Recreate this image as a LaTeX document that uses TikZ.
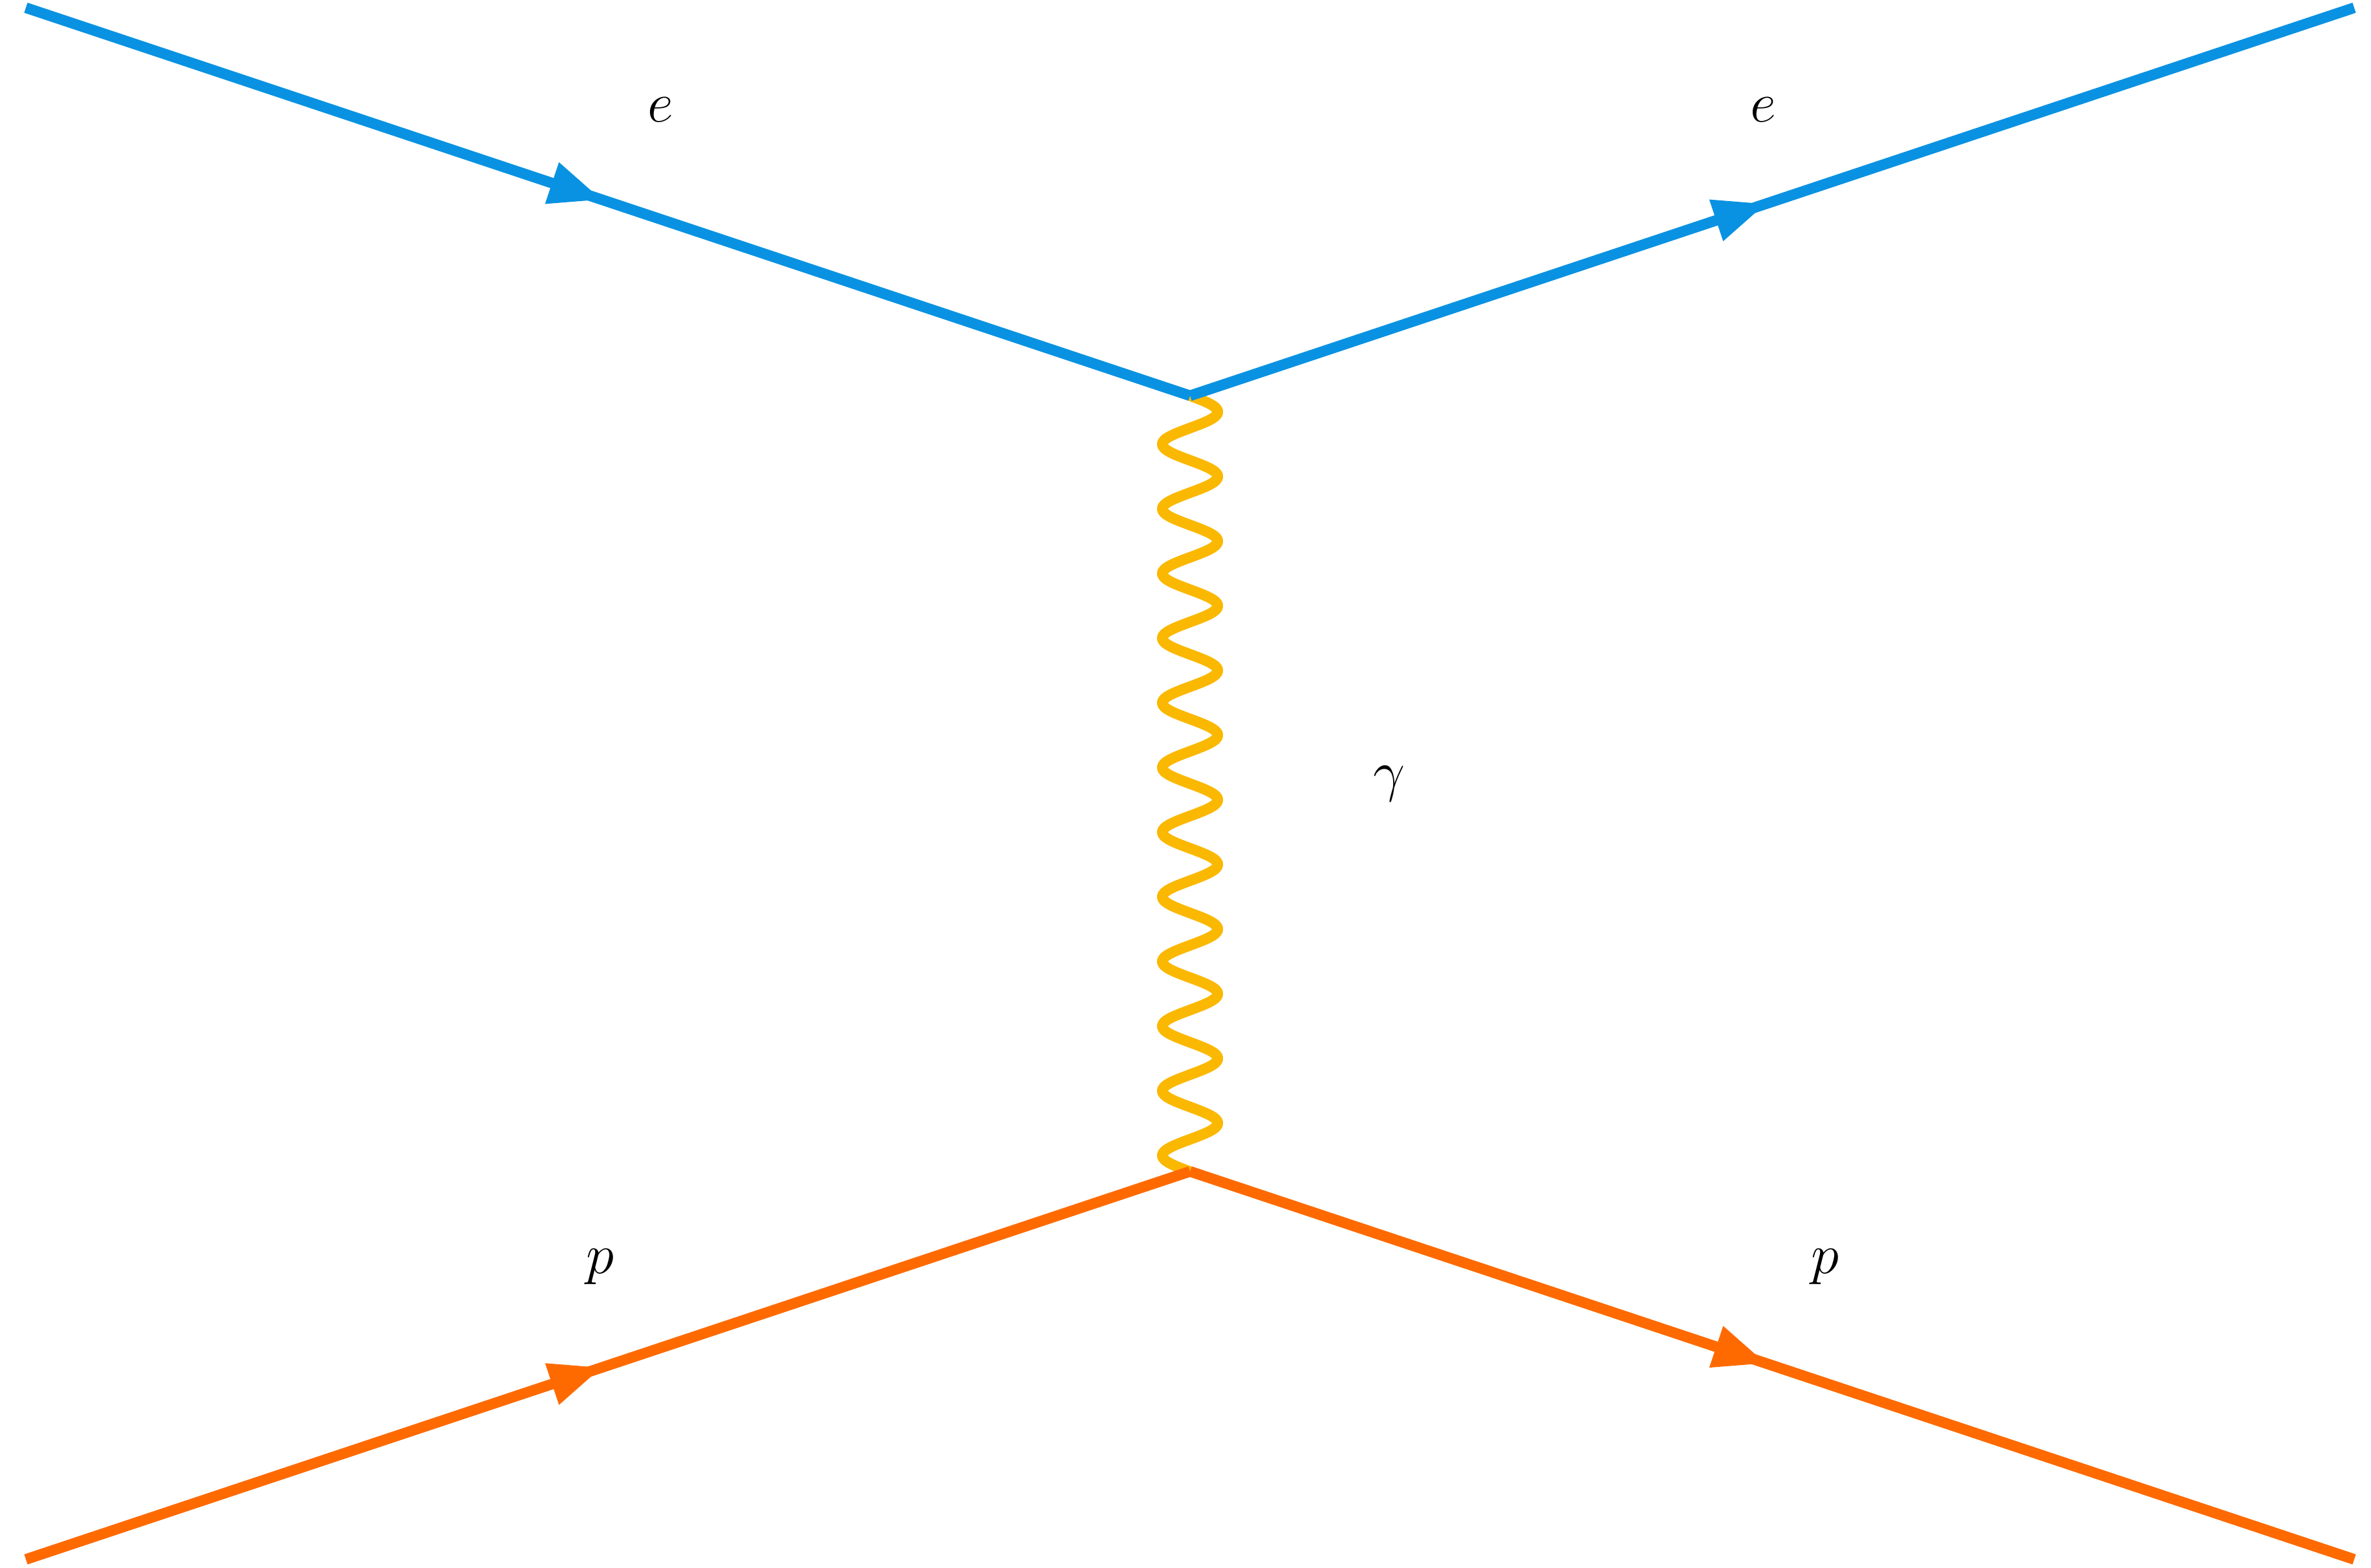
\documentclass[tikz,border=0pt]{standalone}
\usetikzlibrary{decorations.markings}
\definecolor{eblue}{RGB}{9,146,226}
\definecolor{porange}{RGB}{255,106,0}
\definecolor{gyellow}{RGB}{251,184,0}
\tikzset{
  fermion/.style={line width=0.165cm, draw=#1, postaction={decorate},
    decoration={markings, mark=at position 0.452 with {\fill[#1] (0,0.34) -- (0.8,0) -- (0,-0.34) -- cycle;}}},
  photon/.style={line width=0.165cm, draw=gyellow, line join=round},
  lbl/.style={font=\Huge, inner sep=0pt}
}
\begin{document}
\begin{tikzpicture}
\useasboundingbox (0,0) rectangle (36.66,24.25);
\coordinate (i1) at (0.40,24.13);
\coordinate (f1) at (36.40,24.13);
\coordinate (v1) at (18.40,18.13);
\coordinate (v2) at (18.40,6.133);
\coordinate (i2) at (0.40,0.133);
\coordinate (f2) at (36.40,0.133);
\draw[photon] (v1) \foreach \k in {1,...,12} {
    .. controls +(0.2203,-0.0815) and +(0,0.0905) .. ++(0.43,-0.25)
    .. controls +(0,-0.0905) and +(0.2203,0.0815) .. ++(-0.43,-0.25)
    .. controls +(-0.2203,-0.0815) and +(0,0.0905) .. ++(-0.43,-0.25)
    .. controls +(0,-0.0905) and +(-0.2203,0.0815) .. ++(0.43,-0.25)
  } -- (v2);
\draw[fermion=eblue] (i1) -- (v1);
\draw[fermion=eblue] (v1) -- (f1);
\draw[fermion=porange] (i2) -- (v2);
\draw[fermion=porange] (v2) -- (f2);
\node[lbl] (le1) at (10.215,22.55) {$e$};
\node[lbl] (le2) at (27.26,22.55) {$e$};
\node[lbl] (lp1) at (9.28,4.66) {$p$};
\node[lbl] (lp2) at (28.22,4.66) {$p$};
\node[lbl] (lg) at (21.48,12.13) {$\gamma$};
\end{tikzpicture}
\end{document}
